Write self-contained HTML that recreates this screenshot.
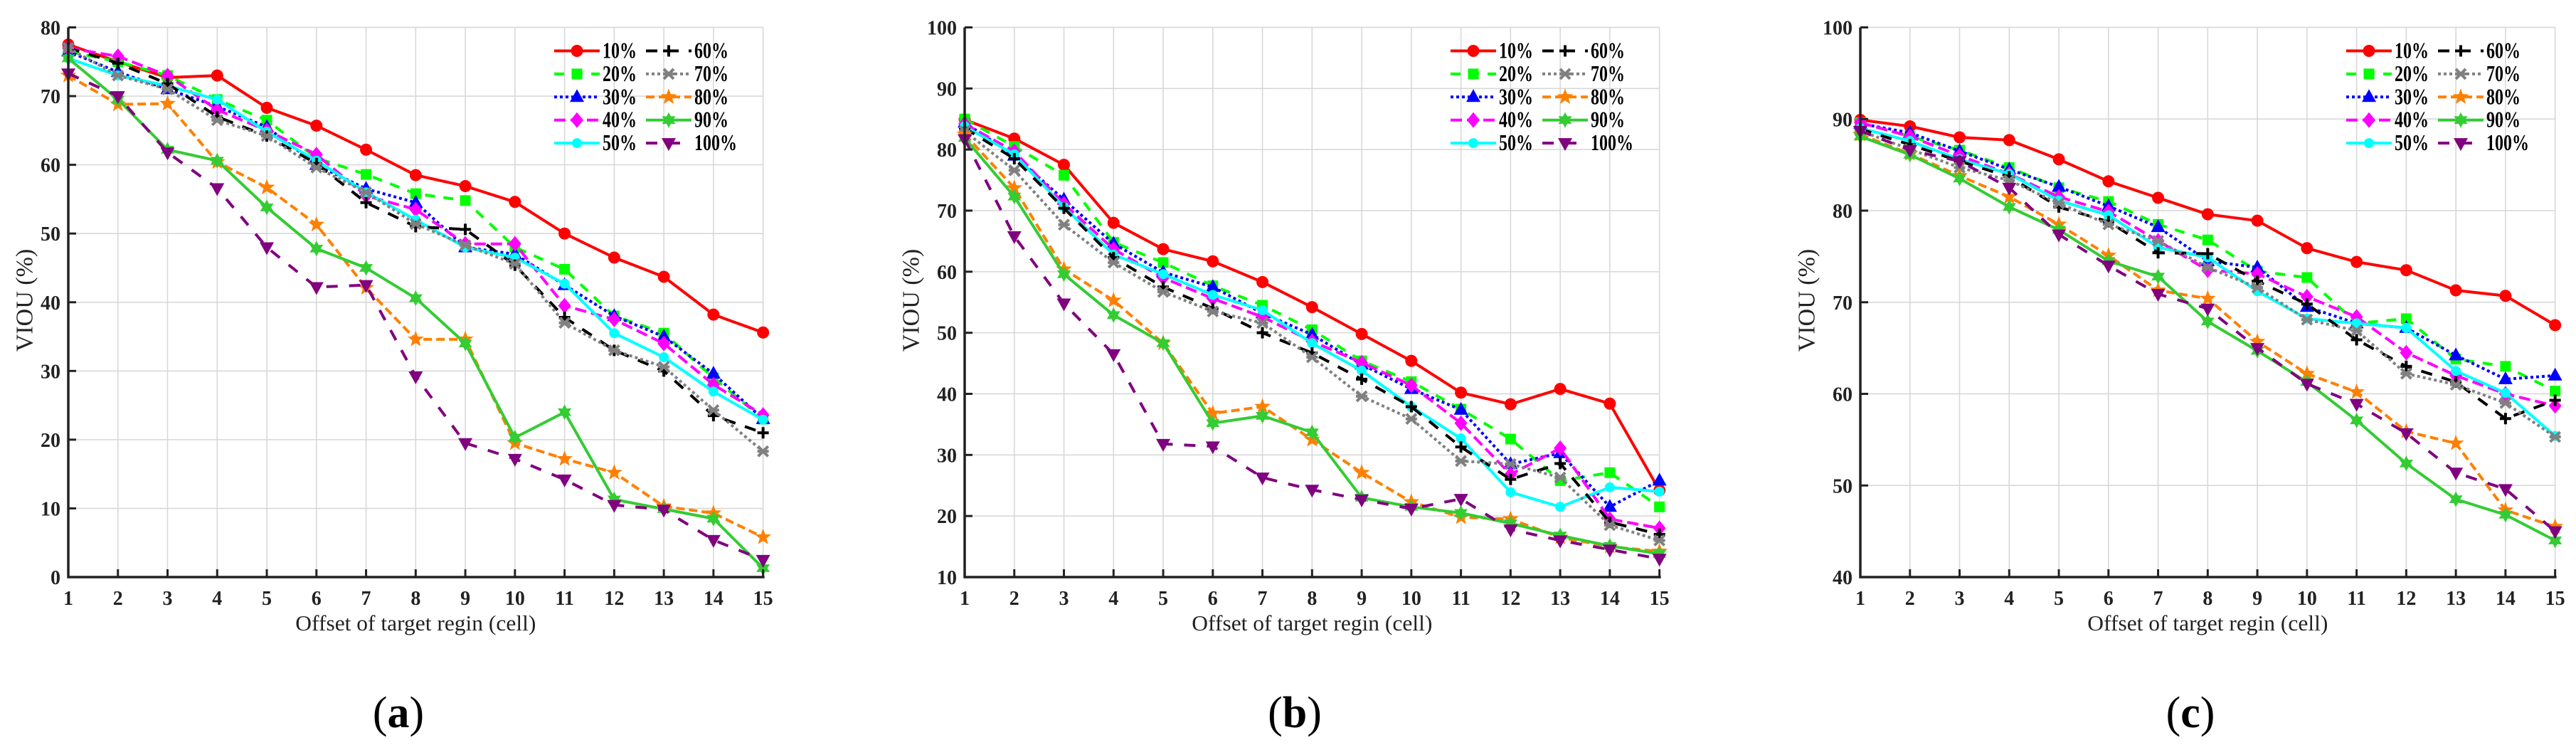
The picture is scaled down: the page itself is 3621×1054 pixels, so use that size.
<!DOCTYPE html>
<html><head><meta charset="utf-8"><style>
html,body{margin:0;padding:0;background:#fff;}
svg{display:block;font-family:"Liberation Serif",serif;}
</style></head>
<body>
<svg id="fig" width="3621" height="1054" viewBox="0 0 3621 1054" xmlns="http://www.w3.org/2000/svg"></svg>
<script>
const categories = [1,2,3,4,5,6,7,8,9,10,11,12,13,14,15];
const seriesNames = ["10%","20%","30%","40%","50%","60%","70%","80%","90%","100%"];
const panelLabels = ["a","b","c"];
const yTicksA = [0,10,20,30,40,50,60,70,80];
const yTicksB = [10,20,30,40,50,60,70,80,90,100];
const yTicksC = [40,50,60,70,80,90,100];

const a10 = [77.5,75,72.7,73,68.3,65.7,62.2,58.5,56.9,54.6,50,46.5,43.7,38.2,35.6];
const a20 = [76.5,75,73,69.5,66.5,61,58.6,55.8,54.8,48,44.8,38,35.5,29,23];
const a30 = [76.5,73.5,71,68.5,65.5,60,56.5,54.5,48,47,42.5,38,35,29.6,23];
const a40 = [77,75.8,73,68,65,61.5,55.5,53.5,48.5,48.5,39.5,37.5,34,28,23.6];
const a50 = [75.5,73,71.5,69.5,64.8,60.6,56,52,48,46.5,42.7,35.5,32,27,22.9];
const a60 = [77,74.8,71.8,67,64.2,60.2,54.5,51,50.6,45.4,37.8,33,30,23.5,21];
const a70 = [77,73,71,66.5,64.2,59.6,56,51.4,48.3,45.6,37,33,30.6,24.3,18.3];
const a80 = [73,68.8,68.9,60.4,56.7,51.3,42.1,34.6,34.6,19.5,17.2,15.2,10.3,9.3,5.8];
const a90 = [75.5,69.5,62.2,60.6,53.8,47.8,45,40.6,34,20.3,24,11.3,9.9,8.5,1.3];
const a100 = [73.3,70,61.8,56.6,48,42.2,42.5,29.2,19.5,17.2,14.2,10.5,9.8,5.4,2.5];

const b10 = [84.9,81.8,77.5,68,63.7,61.7,58.3,54.2,49.8,45.4,40.2,38.3,40.8,38.4,24.2];
const b20 = [85,80.5,75.8,64.8,61.5,57.7,54.5,50.5,45.4,42,37.5,32.6,25.8,27.1,21.5];
const b30 = [84.4,79,71.8,64.6,59.9,57.5,53.2,49.7,44.8,40.8,37.4,28.5,30.3,21.5,25.8];
const b40 = [84.2,79.7,71.1,63.7,59,55.6,52.6,48.6,45.1,41.4,35.2,26.8,31.1,19.5,18];
const b50 = [83.8,79.2,70.6,62.8,59.6,56.2,53.7,48.3,43.8,37.9,32.7,23.9,21.5,24.7,24];
const b60 = [83.5,78.5,70.4,62.3,57.5,54,50,46.7,42.4,37.9,31.3,26,28.6,19,17];
const b70 = [83,76.6,67.7,61.5,56.7,53.5,51.6,46,39.6,35.9,29,28.5,26.3,18.5,16];
const b80 = [82.5,73.7,60.4,55.3,48.3,36.8,37.9,32.5,27.1,22.3,19.8,19.5,16.5,15,14.2];
const b90 = [81.9,72.3,59.6,52.9,48.3,35.2,36.4,33.7,23,21.5,20.5,18.8,16.8,15.1,13.8];
const b100 = [81.7,65.8,54.8,46.5,31.8,31.4,26.3,24.3,22.7,21.2,22.8,17.8,16,14.5,13];

const c10 = [89.9,89.2,88,87.7,85.6,83.2,81.4,79.6,78.9,75.9,74.4,73.5,71.3,70.7,67.5];
const c20 = [89.6,88.1,86.6,84.7,82.5,81,78.5,76.8,73.4,72.7,67.7,68.2,63.8,63,60.3];
const c30 = [89.5,88.5,86.5,84.5,82.6,80.5,78.2,74.5,73.8,69.5,67.7,67.2,64.2,61.6,62];
const c40 = [89.6,88.1,86,84,81.5,79.9,76.7,73.5,73.1,70.6,68.4,64.5,62,60,58.7];
const c50 = [89,87.6,85.6,84,81.1,79.5,76,74.9,71.2,68.2,67.7,67.2,62.5,60.1,55.4];
const c60 = [88.9,87.2,85.4,83.7,80.4,78.8,75.4,75.3,72.3,69.8,65.9,63,61.3,57.3,59.3];
const c70 = [88.7,86.7,84.7,83.3,80.8,78.5,76.7,73.8,71.6,68.1,66.9,62.2,61,59,55.3];
const c80 = [88.3,86.2,83.8,81.5,78.5,75.1,71.3,70.4,65.7,62.2,60.2,55.9,54.6,47.3,45.5];
const c90 = [88.1,86.1,83.5,80.4,77.9,74.5,72.8,67.9,64.7,61.3,57.1,52.4,48.5,46.8,44];
const c100 = [88.7,86.6,85.4,82.5,77.4,74,70.9,69.3,65,61.1,58.9,55.7,51.4,49.6,45];

const panelA = [a10,a20,a30,a40,a50,a60,a70,a80,a90,a100];
const panelB = [b10,b20,b30,b40,b50,b60,b70,b80,b90,b100];
const panelC = [c10,c20,c30,c40,c50,c60,c70,c80,c90,c100];

const NS = "http://www.w3.org/2000/svg";
const svg = document.getElementById("fig");
function mk(tag, attrs, parent){
  const e = document.createElementNS(NS, tag);
  for (const k in attrs) e.setAttribute(k, attrs[k]);
  (parent||svg).appendChild(e);
  return e;
}
const styles = [
  {c:"#ff0000", d:"", m:"circle"},
  {c:"#00ff00", d:"14 12", m:"square"},
  {c:"#0000ff", d:"4 4", m:"triup"},
  {c:"#ff00ff", d:"16 7", m:"diamond"},
  {c:"#00ffff", d:"", m:"dot"},
  {c:"#000000", d:"16 14", m:"plus"},
  {c:"#808080", d:"4 4", m:"xmark"},
  {c:"#ff8000", d:"12 6", m:"star5"},
  {c:"#33cc33", d:"", m:"star6"},
  {c:"#800080", d:"16 16", m:"tridown"}
];
function starPts(cx,cy,n,ro,ri){
  let p=[];
  for(let i=0;i<2*n;i++){
    const r=i%2?ri:ro; const a=-Math.PI/2+i*Math.PI/n;
    p.push((cx+r*Math.cos(a)).toFixed(1)+","+(cy+r*Math.sin(a)).toFixed(1));
  }
  return p.join(" ");
}
function marker(g,type,color,x,y){
  let e;
  if(type==="circle") e=mk("circle",{cx:x,cy:y,r:8.5,fill:color},g);
  else if(type==="dot") e=mk("circle",{cx:x,cy:y,r:7,fill:color},g);
  else if(type==="square") e=mk("rect",{x:x-7.5,y:y-7.5,width:15,height:15,fill:color},g);
  else if(type==="triup") e=mk("polygon",{points:`${x},${y-11} ${x-10},${y+7} ${x+10},${y+7}`,fill:color},g);
  else if(type==="tridown") e=mk("polygon",{points:`${x},${y+11} ${x-10},${y-7} ${x+10},${y-7}`,fill:color},g);
  else if(type==="diamond") e=mk("polygon",{points:`${x},${y-11} ${x+9},${y} ${x},${y+11} ${x-9},${y}`,fill:color},g);
  else if(type==="plus") e=mk("path",{d:`M${x-8},${y}H${x+8}M${x},${y-8}V${y+8}`,stroke:color,"stroke-width":4,fill:"none"},g);
  else if(type==="xmark") e=mk("path",{d:`M${x-7},${y-7}L${x+7},${y+7}M${x-7},${y+7}L${x+7},${y-7}M${x-8},${y}H${x+8}`,stroke:color,"stroke-width":4,fill:"none"},g);
  else if(type==="star5") e=mk("polygon",{points:starPts(x,y,5,12,5),fill:color},g);
  else if(type==="star6") e=mk("polygon",{points:starPts(x,y,6,11,6),fill:color},g);
  
  
  return e;
}

const TOP=38.5, BOT=811, XSTEP=69.76;
const panels=[
  {ox:96, ticks:yTicksA, data:panelA, ymin:0, ymax:80, titleDx:61.5},
  {ox:1356, ticks:yTicksB, data:panelB, ymin:10, ymax:100, titleDx:75.5},
  {ox:2615, ticks:yTicksC, data:panelC, ymin:40, ymax:100, titleDx:75.5}
];
panels.forEach((P,pi)=>{
  const g=mk("g",{});
  
  
  const xs=v=>P.ox+(v-1)*XSTEP;
  const ys=v=>BOT-(v-P.ymin)/(P.ymax-P.ymin)*(BOT-TOP);
  const right=xs(categories[categories.length-1]);
  // grid
  const grid=mk("g",{stroke:"#d6d6d6","stroke-width":1.5},g);
  
  
  categories.forEach(c=>mk("line",{x1:xs(c),x2:xs(c),y1:TOP,y2:BOT},grid));
  P.ticks.forEach(t=>mk("line",{x1:P.ox,x2:right,y1:ys(t),y2:ys(t)},grid));
  // series
  P.data.forEach((vals,si)=>{
    const st=styles[si];
    const sg=mk("g",{},g);
    
    
    const d=vals.map((v,i)=>(i?"L":"M")+xs(categories[i]).toFixed(1)+","+ys(v).toFixed(1)).join("");
    const ln=mk("path",{d:d,fill:"none",stroke:st.c,"stroke-width":4,"stroke-dasharray":st.d,"stroke-linejoin":"round"},sg);
    
    
    vals.forEach((v,i)=>marker(sg,st.m,st.c,xs(categories[i]),ys(v)));
  });
  // axes
  const ax=mk("path",{d:`M${P.ox},${TOP}V${BOT}H${right+2}`,stroke:"#222","stroke-width":3.5,fill:"none"},g);
  
  
  categories.forEach(c=>{
    mk("line",{x1:xs(c),x2:xs(c),y1:BOT,y2:BOT-11,stroke:"#222","stroke-width":3},g);
    const t=mk("text",{x:xs(c),y:850,"text-anchor":"middle","font-size":28,"font-weight":"bold",fill:"#222"},g);
    t.textContent=c;
    
    
  });
  P.ticks.forEach(v=>{
    mk("line",{x1:P.ox,x2:P.ox+11,y1:ys(v),y2:ys(v),stroke:"#222","stroke-width":3},g);
    const t=mk("text",{x:P.ox-11,y:ys(v)+10,"text-anchor":"end","font-size":28,"font-weight":"bold",fill:"#222"},g);
    t.textContent=v;
    
    
  });
  const yt=mk("text",{x:0,y:0,transform:`translate(${P.ox-P.titleDx+11},${422}) rotate(-90)`,"text-anchor":"middle","font-size":34,fill:"#222"},g);
  yt.textContent="VIOU (%)";
  
  
  const xt=mk("text",{x:(P.ox+right)/2,y:886,"text-anchor":"middle","font-size":31,fill:"#222",textLength:338,lengthAdjust:"spacingAndGlyphs"},g);
  xt.textContent="Offset of target regin (cell)";
  
  
  const lab=mk("text",{x:P.ox+464,y:1022,"text-anchor":"middle","font-size":62,fill:"#000"},g);
  
  
  const t1=mk("tspan",{},lab); t1.textContent="(";
  const t2=mk("tspan",{"font-weight":"bold"},lab); t2.textContent=panelLabels[pi];
  const t3=mk("tspan",{},lab); t3.textContent=")";
  // legend
  const lg=mk("g",{},g);
  
  
  seriesNames.forEach((nm,si)=>{
    const st=styles[si];
    const col=si<5?0:1, row=si%5;
    const lx=P.ox+683+col*129, ly=71.5+row*32.4;
    const e=mk("g",{},lg);
    
    
    mk("line",{x1:lx,x2:lx+64,y1:ly,y2:ly,stroke:st.c,"stroke-width":4,"stroke-dasharray":st.d},e);
    marker(e,st.m,st.c,lx+32,ly);
    const tx=mk("text",{transform:`translate(${lx+68},${ly+10}) scale(0.8,1.05)`,"font-size":30,"font-weight":"bold",fill:"#000"},e);
    tx.textContent=nm;
  });
});
</script>
</body></html>
